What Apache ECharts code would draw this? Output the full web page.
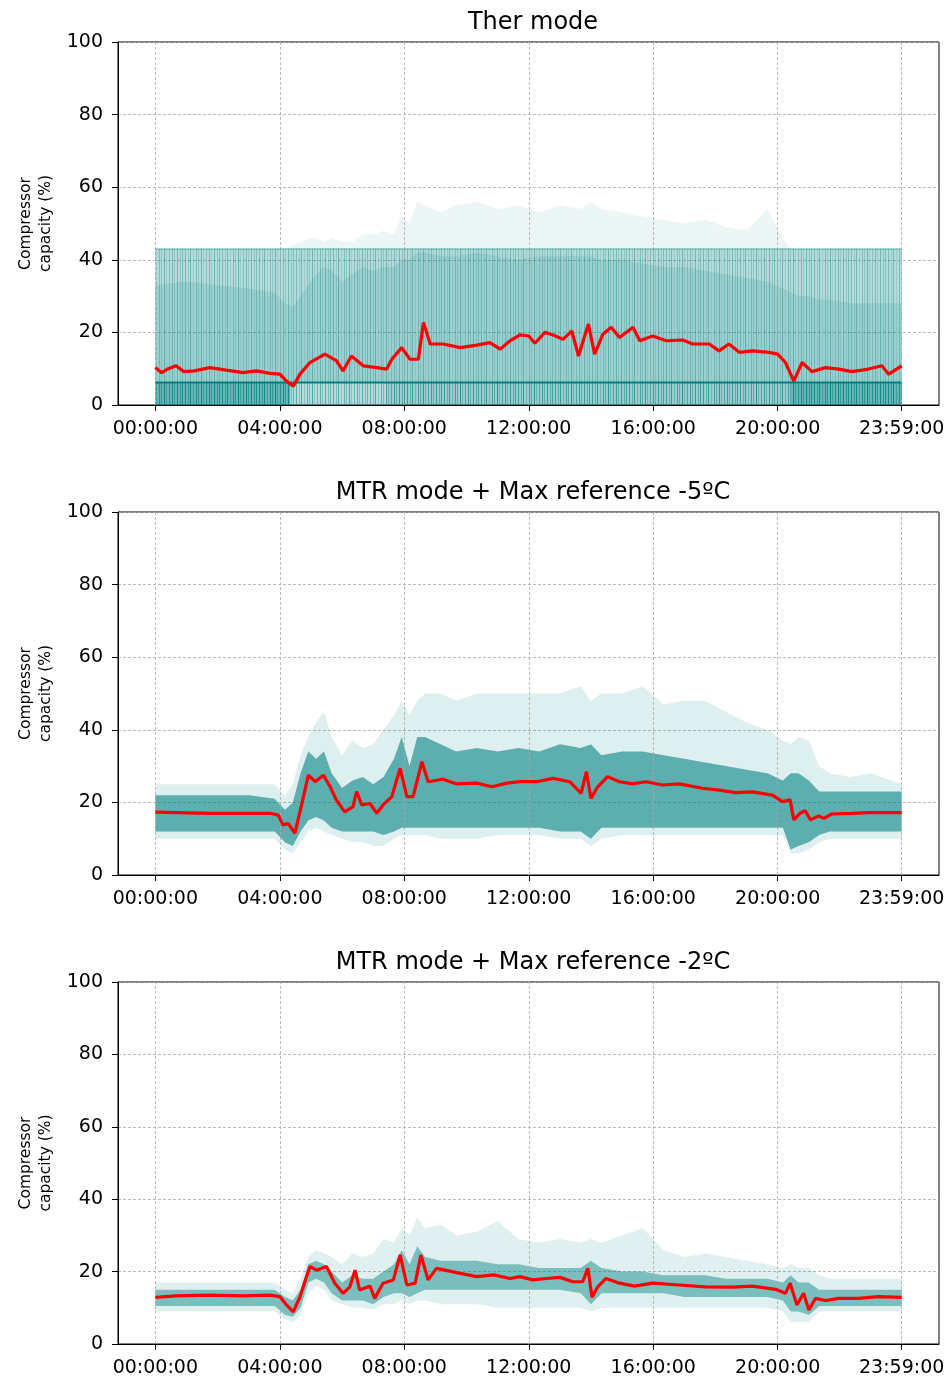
<!DOCTYPE html>
<html><head><meta charset="utf-8">
<script src="https://cdn.jsdelivr.net/npm/echarts@6/dist/echarts.min.js"></script>
<style>html,body{margin:0;padding:0;background:#fff}#c{width:952px;height:1381px}</style>
</head><body><div id="c"></div>
<script>
// ---- axis ticks / labels ----
const tickValues = [0, 240, 480, 720, 960, 1200, 1439];
const tickLabels = ['00:00:00','04:00:00','08:00:00','12:00:00','16:00:00','20:00:00','23:59:00'];
const yTicks = [0, 20, 40, 60, 80, 100];
const titles = ['Ther mode', 'MTR mode + Max reference -5ºC', 'MTR mode + Max reference -2ºC'];
const yName = 'Compressor\ncapacity (%)';

// ---- envelope sample times (minutes of day) ----
const bandT = [0,60,120,180,230,250,265,280,295,310,325,340,360,380,400,420,440,460,475,490,505,520,550,580,620,660,700,740,780,820,840,860,900,940,980,1020,1060,1100,1140,1180,1210,1225,1240,1260,1280,1300,1340,1380,1439];

// ---- Panel 1 (Ther mode) ----
const p1OuterHi = [43,43,43,43,43, 43,44,45,46,46, 45,46,45,45,47, 47,48,47,52,50, 56,55,53,55,56, 54,55,53,55,54, 56,54,53,52,51, 50,51,49,48,54, 46,43,43,43,43, 43,43,43,43];
const p1CoreHi  = [33,34,33,32,31, 28,27,30,33,36, 38,37,34,36,38, 37,38,38,40,40, 42,42,41,41,42, 41,40,41,41,41, 41,40,40,39,38, 38,37,36,35,34, 32,31,30,30,29, 29,28,28,28];
const p1UpperLevel = 43;
const p1LowerLevel = 6.2;
const p1StripT = [0, 260, 446, 1225, 1439];
const p1RedT = [0,12,25,40,55,75,105,137,169,195,221,240,253,266,279,298,327,349,362,378,401,427,446,456,475,491,507,517,530,555,588,620,645,665,684,703,720,732,751,767,786,803,816,835,847,863,879,895,921,934,959,985,1017,1036,1068,1087,1106,1126,1151,1183,1200,1215,1231,1247,1266,1292,1318,1343,1375,1401,1414,1439];
const p1RedV = [10.3,8.9,10,10.8,9.2, 9.4,10.3,9.6,8.9,9.4, 8.7,8.5,6.6,5.2,8.5, 11.7,14,12.2,9.4,13.5, 10.8,10.3,9.9,12.6,15.8, 12.6,12.6,22.7,16.8,16.8, 15.8,16.5,17.2,15.4,17.7, 19.3,19,17,20,19.3, 18.1,20.4,13.5,22.3,14, 19.5,21.4,18.6,21.4,17.7, 19,17.7,17.9,16.8,16.8, 14.9,16.8,14.5,14.9,14.5, 14,11.7,6.6,11.7,9.2, 10.3,9.9,9.2,9.9,10.8, 8.5,10.8];

// ---- Panel 2 (MTR -5ºC) ----
const p2OuterHi = [25,25,25,25,25, 22,25,33,38,42, 45,38,33,37,35, 36,40,44,48,44, 48,50,50,48,50, 50,50,50,50,52, 48,50,50,52,47, 48,48,45,42,40, 37,36,38,37,30, 28,27,28,25];
const p2CoreHi  = [22,22,22,22,21, 18,20,28,34,32, 34,28,24,26,27, 25,27,32,38,30, 38,38,36,34,35, 34,35,34,36,35, 36,33,34,34,33, 32,31,30,29,28, 26,28,28,26,23, 23,23,23,23];
const p2CoreLo  = [12,12,12,12,12, 9,8,12,15,16, 15,13,12,12,12, 12,11,12,13,13, 13,13,13,13,13, 13,13,13,12,12, 10,13,13,13,13, 13,13,13,13,13, 13,7,8,9,11, 12,12,12,12];
const p2OuterLo = [10,10,10,10,10, 7,6,9,12,13, 12,11,10,9,9, 8,8,10,11,11, 11,11,10,10,10, 11,11,11,10,10, 8,10,11,11,11, 11,11,11,11,11, 11,6,6,7,9, 10,10,10,10];
const p2RedT = [0,105,221,237,246,256,269,282,295,308,324,337,349,365,381,388,398,414,427,439,456,472,485,497,514,526,555,581,620,649,678,703,735,767,799,821,831,840,853,872,895,920,946,978,1010,1055,1087,1119,1151,1190,1209,1224,1231,1243,1253,1263,1279,1289,1304,1343,1375,1439];
const p2RedV = [17.3,17,17,16.5,13.8, 14.2,11.5,19.3,27.5,25.7, 27.5,24.3,20.7,17.4,18.8, 23,19.3,19.7,17,19.3, 21.6,29.4,21.6,21.6,31.2, 25.7,26.4,25.1,25.3,24.3, 25.3,25.7,25.7,26.6,25.7, 22.5,28.5,21.1,24.3,27.1, 25.7,25.1,25.7,24.8,25.1, 23.9,23.4,22.7,22.9,22, 20.2,20.7,15.2,17,17.7, 15.2,16.3,15.6,16.8,17, 17.2,17.2];

// ---- Panel 3 (MTR -2ºC) ----
const p3OuterHi = [17,17,17,17,17, 15,14,18,24,26, 25,24,22,25,24, 25,29,28,32,30, 35,32,33,30,31, 34,29,28,29,28, 29,28,30,32,26, 24,25,24,23,22, 21,22,21,21,19, 18,18,18,18];
const p3CoreHi  = [15,15,15,15,15, 13,12,15,22,23, 22,20,17,19,18, 18,20,22,26,22, 27,24,23,23,23, 22,22,21,21,21, 23,21,20,20,19, 19,19,18,18,18, 17,19,17,17,15, 15,15,15,15];
const p3CoreLo  = [10.5,10.5,10.5,10.5,10.5, 8,7.5,10,17,18, 17,14,12,12,12, 11,13,14,14,13, 14,15,15,15,15, 15,15,15,15,14, 11,14,14,14,14, 13,13,13,13,13, 12,9,9,8,10.5, 10.5,10.5,10.5,10.5];
const p3OuterLo = [9,9,9,9,9, 7,6,8,14,16, 15,12,11,10,10, 9.5,11,11,12,11, 12,12,11,11,11, 10,10,10,10,10, 9,10,10,10,10, 10,10,10,10,10, 9,6,6,6,9, 9,9,9,9];
const p3RedT = [0,40,105,169,221,240,253,266,279,298,311,330,346,362,375,385,394,414,423,439,459,472,485,501,512,526,542,588,620,652,684,703,728,754,780,805,824,834,842,853,869,895,924,959,1010,1061,1113,1151,1196,1215,1224,1237,1250,1260,1273,1292,1317,1356,1394,1439];
const p3RedV = [12.9,13.3,13.5,13.3,13.5, 13.1,10.8,8.9,13.1,21.4, 20.4,21.4,16.8,14,15.8, 20.4,14.9,16,12.6,16.8, 17.7,24.6,16.3,16.8,24.6, 17.7,20.9,19.5,18.6,19.1, 18.1,18.6,17.7,18.1,18.4, 17.2,17.2,20.9,12.9,15.8, 18.1,16.8,16,16.8,16.3, 15.8,15.7,16,15.1,14, 16.8,10.8,14,9.4,12.6, 12,12.6,12.6,13.1,12.9];

// ---------------- chart ----------------
const FONT = 'DejaVu Sans';
const TEAL = '0,128,128';
const gridTops = [42, 512, 982];
const gridH = 363;

function pairs(t, v) { return t.map((x, i) => [x, v[i]]); }

// vertical-stripe texture (style only) to imitate many thin overlapping traces
function stripes(alphaScale) {
  const pos = [0, 3, 5, 8, 11, 13, 16, 18, 21, 24, 26, 29, 32, 34];
  const al  = [0.45, 0.25, 0.5, 0.2, 0.4, 0.3, 0.55, 0.2, 0.35, 0.45, 0.25, 0.5, 0.3, 0.4];
  const c = document.createElement('canvas');
  c.width = 37; c.height = 4;
  const ctx = c.getContext('2d');
  for (let i = 0; i < pos.length; i++) {
    ctx.fillStyle = `rgba(${TEAL},${Math.min(1, al[i] * alphaScale)})`;
    ctx.fillRect(pos[i], 0, 1, 4);
  }
  return { image: c, repeat: 'repeat' };
}

function band(gi, times, hi, lo, fill, z) {
  return {
    type: 'custom', xAxisIndex: gi, yAxisIndex: gi, z: z, silent: true,
    data: [[times[0], 0]],
    renderItem: function (params, api) {
      const pts = [];
      for (let i = 0; i < times.length; i++) pts.push(api.coord([times[i], Array.isArray(hi) ? hi[i] : hi]));
      for (let i = times.length - 1; i >= 0; i--) pts.push(api.coord([times[i], Array.isArray(lo) ? lo[i] : lo]));
      return { type: 'polygon', shape: { points: pts }, style: { fill: fill } };
    }
  };
}

function redLine(gi, t, v) {
  return { type: 'line', xAxisIndex: gi, yAxisIndex: gi, data: pairs(t, v), showSymbol: false, z: 20, silent: true,
    lineStyle: { color: '#ff0000', width: 3.2 }, itemStyle: { color: '#ff0000' } };
}

function gridLines(gi) {
  return { type: 'line', xAxisIndex: gi, yAxisIndex: gi, data: [[0, -10]], showSymbol: false, z: 1, silent: true,
    lineStyle: { opacity: 0 },
    markLine: { silent: true, symbol: ['none', 'none'], label: { show: false },
      lineStyle: { type: [3, 2], color: '#aaaaaa', width: 0.8 },
      emphasis: { disabled: true },
      data: tickValues.map(v => ({ xAxis: v })) } };
}

const grids = [], xAxes = [], yAxes = [], titleArr = [];
for (let i = 0; i < 3; i++) {
  grids.push({ left: 118, width: 821, top: gridTops[i], height: i === 2 ? 362 : gridH, show: true,
    borderColor: '#000', borderWidth: 1, backgroundColor: 'transparent' });
  xAxes.push({ type: 'value', gridIndex: i, min: -72, max: 1511,
    splitLine: { show: false },
    axisLine: { show: true, onZero: false, lineStyle: { color: '#000', width: 1 } },
    axisTick: { show: true, customValues: tickValues, length: 6, lineStyle: { color: '#000' } },
    axisLabel: { customValues: tickValues, formatter: v => tickLabels[tickValues.indexOf(v)],
      fontSize: 19, fontFamily: FONT, color: '#000', margin: 15 } });
  yAxes.push({ type: 'value', gridIndex: i, min: 0, max: 100, interval: 20,
    splitLine: { show: true, lineStyle: { type: [3, 2], color: '#aaaaaa', width: 0.8 } },
    axisLine: { show: true, onZero: false, lineStyle: { color: '#000', width: 1 } },
    axisTick: { show: true, length: 6, lineStyle: { color: '#000' } },
    axisLabel: { fontSize: 19, fontFamily: FONT, color: '#000', margin: 15,
      formatter: v => (yTicks.indexOf(v) >= 0 ? String(v) : '') },
    name: yName, nameLocation: 'middle', nameGap: 62,
    nameTextStyle: { fontSize: 15.5, fontFamily: FONT, color: '#000', lineHeight: 20 } });
  titleArr.push({ text: titles[i], left: 528, top: gridTops[i] - 36, textAlign: 'center',
    textStyle: { fontSize: 24, fontWeight: 'normal', fontFamily: FONT, color: '#000' } });
}

const series = [];
for (let i = 0; i < 3; i++) series.push(gridLines(i));

// panel 1
series.push(band(0, bandT, p1OuterHi, 0, `rgba(${TEAL},0.07)`, 2));
series.push(band(0, bandT, p1UpperLevel, 0, `rgba(${TEAL},0.24)`, 3));
series.push(band(0, bandT, p1UpperLevel, 0, stripes(0.75), 4));
series.push(band(0, bandT, p1CoreHi, p1LowerLevel, `rgba(${TEAL},0.12)`, 5));
const stripFlat = [0.42, 0.0, 0.15, 0.42];
const stripScale = [1.4, 0.5, 0.9, 1.4];
for (let k = 0; k < p1StripT.length - 1; k++) {
  const seg = [p1StripT[k], p1StripT[k + 1]];
  if (stripFlat[k] > 0) series.push(band(0, seg, p1LowerLevel, 0, `rgba(${TEAL},${stripFlat[k]})`, 6));
  series.push(band(0, seg, p1LowerLevel, 0, stripes(stripScale[k]), 6));
}
series.push({ type: 'line', xAxisIndex: 0, yAxisIndex: 0, data: [[0, p1UpperLevel], [1439, p1UpperLevel]],
  showSymbol: false, z: 7, silent: true, lineStyle: { color: `rgba(${TEAL},0.6)`, width: 1 } });
series.push({ type: 'line', xAxisIndex: 0, yAxisIndex: 0, data: [[0, p1LowerLevel], [1439, p1LowerLevel]],
  showSymbol: false, z: 8, silent: true, lineStyle: { color: `rgb(${TEAL})`, width: 2 } });
series.push(redLine(0, p1RedT, p1RedV));

// panel 2
series.push(band(1, bandT, p2OuterHi, p2OuterLo, `rgba(${TEAL},0.13)`, 2));
series.push(band(1, bandT, p2CoreHi, p2CoreLo, `rgba(${TEAL},0.58)`, 3));
series.push(redLine(1, p2RedT, p2RedV));

// panel 3
series.push(band(2, bandT, p3OuterHi, p3OuterLo, `rgba(${TEAL},0.12)`, 2));
series.push(band(2, bandT, p3CoreHi, p3CoreLo, `rgba(${TEAL},0.45)`, 3));
series.push(redLine(2, p3RedT, p3RedV));

const chart = echarts.init(document.getElementById('c'), null, { renderer: 'canvas' });
chart.setOption({
  animation: false,
  backgroundColor: '#fff',
  title: titleArr,
  grid: grids, xAxis: xAxes, yAxis: yAxes, series: series
});
</script></body></html>
